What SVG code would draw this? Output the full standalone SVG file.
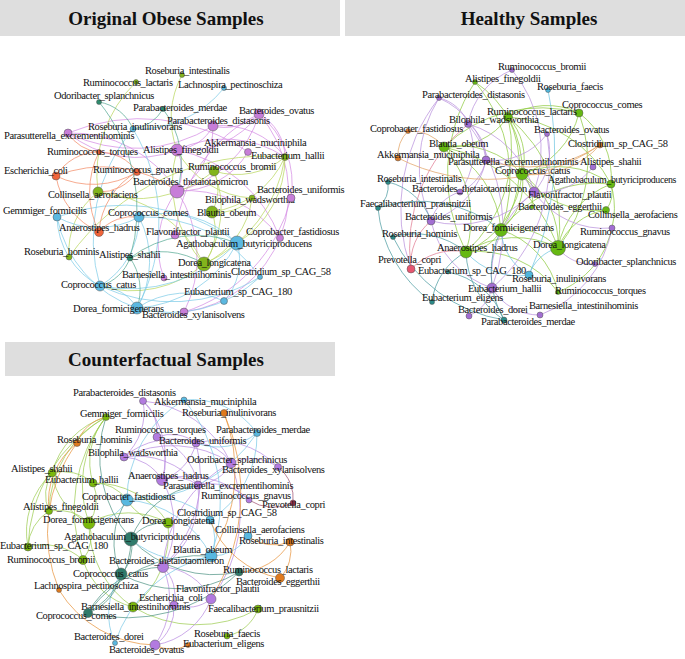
<svg xmlns="http://www.w3.org/2000/svg" width="685" height="659" viewBox="0 0 685 659">
<style>
.bg{fill:#dedede}
.tt{font-family:"Liberation Serif","Times New Roman",serif;font-weight:bold;font-size:19px;fill:#111;text-anchor:middle}
.l{font-family:"Liberation Serif","Times New Roman",serif;font-size:10.5px;letter-spacing:-0.4px;fill:#111}
circle{stroke:#555;stroke-width:0.5}
.e path{fill:none;stroke-width:0.9;opacity:0.8}
.p1{fill:#c77dd8}.g1{fill:#82b41c}.b1{fill:#5bb8e0}.o1{fill:#f0643a}.t1{fill:#2e8b6e}
.p2{fill:#a26ed2}.g2{fill:#66b812}.b2{fill:#4fb6dc}.o2{fill:#d97a2a}.t2{fill:#2a8a88}.r2{fill:#e65670}
.p3{fill:#b27ae0}.g3{fill:#7ab80c}.b3{fill:#58b8e0}.o3{fill:#e07a1e}.t3{fill:#2f7a6a}.r3{fill:#a03a5a}
.ep1{stroke:#d48ae3}.eg1{stroke:#b8d65c}.eb1{stroke:#7dcbe8}.eo1{stroke:#f28a64}.et1{stroke:#55a893}
.ep2{stroke:#b890dc}.eg2{stroke:#8cc83a}.eo2{stroke:#e0a060}.eb2{stroke:#6ec4e0}.et2{stroke:#4a9aa0}.er2{stroke:#e07890}
.ep3{stroke:#b88ae0}.eg3{stroke:#9ccc50}.eb3{stroke:#7ac8e6}.et3{stroke:#4f9484}.eo3{stroke:#e8923a}.er3{stroke:#a05070}
</style>
<rect x="0" y="0" width="685" height="659" fill="#ffffff"/>
<g id="titles">
<rect class="bg" x="0" y="0" width="340" height="36"/>
<rect class="bg" x="345" y="0" width="340" height="36"/>
<rect class="bg" x="5" y="342" width="330" height="34"/>
<text class="tt" x="166" y="25">Original Obese Samples</text>
<text class="tt" x="529" y="25">Healthy Samples</text>
<text class="tt" x="166" y="366">Counterfactual Samples</text>
</g>
<g id="connectors" class="e">
<g class="ep1">
<path d="M259 114 A50 50 0 0 1 213 126"/>
<path d="M259 114 A90 90 0 0 1 177 150"/>
<path d="M259 114 A50 50 0 0 1 285 157"/>
<path d="M259 114 A110 110 0 0 1 177 191"/>
<path d="M259 114 A120 120 0 0 1 184 312"/>
<path d="M213 126 A45 45 0 0 1 177 150"/>
<path d="M213 126 A150 150 0 0 1 68 133"/>
<path d="M213 126 A75 75 0 0 1 177 191"/>
<path d="M177 150 A110 110 0 0 1 68 133"/>
<path d="M177 150 A45 45 0 0 1 177 191"/>
<path d="M177 150 A110 110 0 0 1 285 157"/>
<path d="M248 152 A80 80 0 0 1 177 191"/>
<path d="M68 133 A125 125 0 0 1 177 191"/>
<path d="M177 191 A120 120 0 0 1 184 312"/>
<path d="M177 191 A115 115 0 0 1 280 238"/>
<path d="M291 198 A160 160 0 0 1 184 312"/>
<path d="M164 278 A90 90 0 0 1 177 191"/>
<path d="M175 235 A150 150 0 0 1 259 114"/>
<path d="M259 114 A90 90 0 0 1 291 198"/>
<path d="M213 126 A80 80 0 0 1 285 157"/>
<path d="M68 133 A190 190 0 0 1 248 152"/>
<path d="M177 150 A140 140 0 0 1 280 238"/>
</g>
<g class="eg1">
<path d="M182 75 A90 90 0 0 0 177 150"/>
<path d="M136 82 A130 130 0 0 0 98 192"/>
<path d="M285 157 A75 75 0 0 1 214 171"/>
<path d="M285 157 A95 95 0 0 1 212 212"/>
<path d="M285 157 A140 140 0 0 1 204 264"/>
<path d="M214 171 A45 45 0 0 1 212 212"/>
<path d="M214 171 A100 100 0 0 1 204 264"/>
<path d="M252 198 A45 45 0 0 1 212 212"/>
<path d="M252 198 A85 85 0 0 1 204 264"/>
<path d="M212 212 A55 55 0 0 1 204 264"/>
<path d="M98 192 A75 75 0 0 0 69 257"/>
<path d="M98 192 A130 130 0 0 1 204 264"/>
<path d="M69 257 A240 240 0 0 1 285 157"/>
<path d="M204 264 A120 120 0 0 1 177 150"/>
<path d="M252 198 A90 90 0 0 1 177 150"/>
<path d="M214 171 A120 120 0 0 1 98 192"/>
<path d="M285 157 A100 100 0 0 1 237 243"/>
<path d="M204 264 A110 110 0 0 1 100 286"/>
</g>
<g class="eb1">
<path d="M224 88 A110 110 0 0 1 133 129"/>
<path d="M57 217 A80 80 0 0 0 100 286"/>
<path d="M57 217 A120 120 0 0 0 137 308"/>
<path d="M57 217 A190 190 0 0 1 237 243"/>
<path d="M139 217 A95 95 0 0 1 137 308"/>
<path d="M139 217 A80 80 0 0 1 100 286"/>
<path d="M139 217 A100 100 0 0 1 237 243"/>
<path d="M100 286 A45 45 0 0 1 137 308"/>
<path d="M237 243 A120 120 0 0 1 137 308"/>
<path d="M237 243 A60 60 0 0 1 224 301"/>
<path d="M137 308 A90 90 0 0 1 224 301"/>
<path d="M260 277 A170 170 0 0 1 100 286"/>
<path d="M260 277 A130 130 0 0 1 137 308"/>
<path d="M133 129 A170 170 0 0 0 100 286"/>
<path d="M133 129 A180 180 0 0 1 137 308"/>
<path d="M139 217 A85 85 0 0 1 57 217"/>
<path d="M139 217 A140 140 0 0 1 260 277"/>
<path d="M237 243 A150 150 0 0 1 100 286"/>
</g>
<g class="eo1">
<path d="M56 176 A50 50 0 0 1 99 152"/>
<path d="M56 176 A85 85 0 0 0 137 172"/>
<path d="M99 152 A45 45 0 0 1 137 172"/>
<path d="M99 232 A75 75 0 0 1 137 172"/>
<path d="M99 232 A75 75 0 0 1 56 176"/>
<path d="M137 172 A45 45 0 0 1 98 192"/>
<path d="M99 232 A45 45 0 0 1 139 217"/>
<path d="M99 152 A40 40 0 0 1 68 133"/>
<path d="M56 176 A125 125 0 0 1 177 191"/>
<path d="M99 232 A90 90 0 0 1 99 152"/>
</g>
<g class="et1">
<path d="M99 102 A45 45 0 0 1 133 129"/>
<path d="M99 102 A170 170 0 0 1 130 258"/>
<path d="M130 258 A45 45 0 0 1 100 286"/>
<path d="M130 258 A80 80 0 0 1 204 264"/>
<path d="M163 109 A40 40 0 0 1 133 129"/>
<path d="M130 258 A110 110 0 0 1 237 243"/>
<path d="M163 109 A90 90 0 0 1 177 191"/>
<path d="M130 258 A55 55 0 0 1 137 308"/>
</g>
<g class="eg2">
<path d="M508 117 A60 60 0 0 1 522 174"/>
<path d="M508 117 A115 115 0 0 1 501 230"/>
<path d="M508 117 A140 140 0 0 1 466 252"/>
<path d="M508 117 A140 140 0 0 1 558 248"/>
<path d="M508 117 A72 72 0 0 1 579 113"/>
<path d="M508 117 A72 72 0 0 1 444 147"/>
<path d="M508 117 A125 125 0 0 1 611 184"/>
<path d="M579 113 A85 85 0 0 1 522 174"/>
<path d="M579 113 A140 140 0 0 1 558 248"/>
<path d="M579 113 A140 140 0 0 0 444 147"/>
<path d="M444 147 A85 85 0 0 1 522 174"/>
<path d="M444 147 A100 100 0 0 1 501 230"/>
<path d="M444 147 A110 110 0 0 1 466 252"/>
<path d="M444 147 A155 155 0 0 1 558 248"/>
<path d="M522 174 A60 60 0 0 1 501 230"/>
<path d="M522 174 A95 95 0 0 1 466 252"/>
<path d="M522 174 A85 85 0 0 1 558 248"/>
<path d="M522 174 A90 90 0 0 1 611 184"/>
<path d="M501 230 A42 42 0 0 1 466 252"/>
<path d="M501 230 A60 60 0 0 1 558 248"/>
<path d="M501 230 A120 120 0 0 1 611 184"/>
<path d="M466 252 A92 92 0 0 1 558 248"/>
<path d="M558 248 A85 85 0 0 1 611 184"/>
<path d="M611 184 A90 90 0 0 1 558 292"/>
<path d="M558 248 A62 62 0 0 1 606 210"/>
<path d="M466 252 A100 100 0 0 1 558 292"/>
<path d="M475 82 A105 105 0 0 1 522 174"/>
<path d="M475 82 A150 150 0 0 1 501 230"/>
<path d="M606 210 A92 92 0 0 1 522 174"/>
<path d="M611 184 A30 30 0 0 1 606 210"/>
<path d="M475 82 A170 170 0 0 0 466 252"/>
<path d="M579 113 A80 80 0 0 1 611 184"/>
<path d="M522 174 A40 40 0 0 1 532 207"/>
<path d="M501 230 A85 85 0 0 1 558 292"/>
</g>
<g class="ep2">
<path d="M439 98 A40 40 0 0 1 468 124"/>
<path d="M439 98 A80 80 0 0 1 486 160"/>
<path d="M439 98 A130 130 0 0 0 431 221"/>
<path d="M439 98 A180 180 0 0 0 411 269"/>
<path d="M468 124 A42 42 0 0 1 486 160"/>
<path d="M468 124 A70 70 0 0 1 460 192"/>
<path d="M468 124 A95 95 0 0 1 534 192"/>
<path d="M512 70 A72 72 0 0 0 468 124"/>
<path d="M486 160 A60 60 0 0 1 534 192"/>
<path d="M486 160 A45 45 0 0 1 460 192"/>
<path d="M547 134 A60 60 0 0 1 534 192"/>
<path d="M547 134 A165 165 0 0 1 492 288"/>
<path d="M593 167 A65 65 0 0 1 534 192"/>
<path d="M431 221 A42 42 0 0 1 460 192"/>
<path d="M431 221 A92 92 0 0 0 492 288"/>
<path d="M492 288 A40 40 0 0 1 469 316"/>
<path d="M492 288 A105 105 0 0 1 534 192"/>
<path d="M612 228 A86 86 0 0 1 534 192"/>
<path d="M612 228 A115 115 0 0 1 540 315"/>
<path d="M595 264 A42 42 0 0 1 558 248"/>
<path d="M486 160 A82 82 0 0 1 431 221"/>
<path d="M534 192 A107 107 0 0 1 431 221"/>
<path d="M468 124 A170 170 0 0 1 492 288"/>
<path d="M547 134 A66 66 0 0 1 486 160"/>
<path d="M512 70 A125 125 0 0 1 534 192"/>
<path d="M540 315 A55 55 0 0 1 492 288"/>
</g>
<g class="eo2">
<path d="M408 131 A35 35 0 0 0 398 158"/>
<path d="M600 145 A200 200 0 0 1 398 158"/>
<path d="M600 145 A90 90 0 0 1 522 174"/>
<path d="M600 145 A130 130 0 0 1 486 160"/>
<path d="M408 131 A42 42 0 0 1 444 147"/>
</g>
<g class="eb2">
<path d="M548 90 A300 300 0 0 1 529 275"/>
<path d="M529 275 A42 42 0 0 1 558 248"/>
<path d="M529 275 A70 70 0 0 1 466 252"/>
<path d="M529 275 A55 55 0 0 1 501 230"/>
</g>
<g class="et2">
<path d="M388 182 A30 30 0 0 1 378 208"/>
<path d="M378 208 A130 130 0 0 0 432 302"/>
<path d="M393 237 A150 150 0 0 0 504 320"/>
<path d="M393 237 A80 80 0 0 1 466 252"/>
<path d="M432 302 A65 65 0 0 1 466 252"/>
<path d="M504 320 A85 85 0 0 1 466 252"/>
<path d="M388 182 A60 60 0 0 1 431 221"/>
<path d="M448 272 A75 75 0 0 1 504 320"/>
<path d="M378 208 A130 130 0 0 1 501 230"/>
<path d="M504 320 A95 95 0 0 1 501 230"/>
</g>
<g class="er2">
<path d="M411 269 A55 55 0 0 1 431 221"/>
<path d="M411 269 A160 160 0 0 1 468 124"/>
<path d="M411 269 A60 60 0 0 1 466 252"/>
</g>
<g class="eg3">
<path d="M106 417 A80 80 0 0 0 52 473"/>
<path d="M106 417 A70 70 0 0 0 93 483"/>
<path d="M106 417 A110 110 0 0 0 89 523"/>
<path d="M106 417 A155 155 0 0 0 28 547"/>
<path d="M52 473 A45 45 0 0 1 93 483"/>
<path d="M52 473 A65 65 0 0 0 89 523"/>
<path d="M52 473 A40 40 0 0 0 49 511"/>
<path d="M93 483 A42 42 0 0 1 89 523"/>
<path d="M93 483 A88 88 0 0 1 168 523"/>
<path d="M49 511 A45 45 0 0 1 89 523"/>
<path d="M49 511 A45 45 0 0 0 28 547"/>
<path d="M89 523 A82 82 0 0 1 168 523"/>
<path d="M89 523 A40 40 0 0 1 83 560"/>
<path d="M89 523 A100 100 0 0 0 133 607"/>
<path d="M168 523 A95 95 0 0 1 133 607"/>
<path d="M28 547 A58 58 0 0 1 83 560"/>
<path d="M83 560 A70 70 0 0 0 133 607"/>
<path d="M258 609 A42 42 0 0 1 227 636"/>
<path d="M258 609 A125 125 0 0 1 133 607"/>
<path d="M106 417 A150 150 0 0 0 83 560"/>
<path d="M52 473 A80 80 0 0 0 28 547"/>
<path d="M106 417 A110 110 0 0 0 49 511"/>
<path d="M168 523 A48 48 0 0 1 127 500"/>
<path d="M93 483 A40 40 0 0 1 127 500"/>
</g>
<g class="ep3">
<path d="M143 401 A40 40 0 0 1 157 437"/>
<path d="M143 401 A60 60 0 0 1 124 457"/>
<path d="M157 437 A45 45 0 0 1 162 480"/>
<path d="M157 437 A40 40 0 0 1 196 443"/>
<path d="M196 443 A42 42 0 0 1 231 463"/>
<path d="M196 443 A52 52 0 0 1 162 480"/>
<path d="M124 457 A46 46 0 0 1 162 480"/>
<path d="M124 457 A80 80 0 0 1 198 485"/>
<path d="M124 457 A108 108 0 0 1 231 463"/>
<path d="M231 463 A48 48 0 0 1 278 467"/>
<path d="M231 463 A40 40 0 0 1 198 485"/>
<path d="M162 480 A38 38 0 0 1 198 485"/>
<path d="M162 480 A90 90 0 0 1 249 500"/>
<path d="M198 485 A55 55 0 0 1 249 500"/>
<path d="M163 567 A58 58 0 0 1 211 599"/>
<path d="M163 567 A40 40 0 0 1 174 605"/>
<path d="M163 567 A80 80 0 0 1 155 645"/>
<path d="M211 599 A38 38 0 0 1 174 605"/>
<path d="M211 599 A72 72 0 0 1 155 645"/>
<path d="M163 567 A125 125 0 0 1 231 463"/>
<path d="M196 443 A128 128 0 0 1 163 567"/>
<path d="M162 480 A88 88 0 0 1 163 567"/>
<path d="M143 401 A82 82 0 0 1 162 480"/>
<path d="M157 437 A64 64 0 0 1 198 485"/>
<path d="M124 457 A74 74 0 0 1 196 443"/>
<path d="M196 443 A86 86 0 0 1 278 467"/>
<path d="M174 605 A45 45 0 0 1 155 645"/>
<path d="M198 485 A90 90 0 0 1 163 567"/>
<path d="M231 463 A140 140 0 0 1 211 599"/>
<path d="M143 401 A108 108 0 0 1 231 463"/>
</g>
<g class="eb3">
<path d="M184 400 A115 115 0 0 0 127 500"/>
<path d="M184 400 A80 80 0 0 1 257 433"/>
<path d="M257 433 A62 62 0 0 1 196 443"/>
<path d="M257 433 A100 100 0 0 1 210 520"/>
<path d="M127 500 A85 85 0 0 1 210 520"/>
<path d="M127 500 A100 100 0 0 1 211 556"/>
<path d="M210 520 A40 40 0 0 1 211 556"/>
<path d="M248 536 A42 42 0 0 1 211 556"/>
<path d="M211 556 A82 82 0 0 1 131 539"/>
<path d="M115 643 A130 130 0 0 1 211 556"/>
<path d="M184 400 A160 160 0 0 1 211 556"/>
<path d="M257 433 A150 150 0 0 1 127 500"/>
<path d="M115 643 A70 70 0 0 1 121 574"/>
<path d="M127 500 A45 45 0 0 1 89 523"/>
</g>
<g class="et3">
<path d="M131 539 A38 38 0 0 1 121 574"/>
<path d="M131 539 A86 86 0 0 1 88 613"/>
<path d="M121 574 A52 52 0 0 1 88 613"/>
<path d="M239 572 A115 115 0 0 1 131 539"/>
<path d="M239 572 A118 118 0 0 1 121 574"/>
<path d="M88 613 A138 138 0 0 1 211 556"/>
<path d="M131 539 A125 125 0 0 1 106 417"/>
<path d="M121 574 A75 75 0 0 1 127 500"/>
<path d="M131 539 A40 40 0 0 1 168 523"/>
<path d="M88 613 A88 88 0 0 1 163 567"/>
<path d="M131 539 A86 86 0 0 1 198 485"/>
<path d="M88 613 A160 160 0 0 0 239 572"/>
</g>
<g class="eo3">
<path d="M224 413 A200 200 0 0 1 211 599"/>
<path d="M224 413 A160 160 0 0 1 211 556"/>
<path d="M77 443 A75 75 0 0 0 49 511"/>
<path d="M77 443 A150 150 0 0 0 59 590"/>
<path d="M290 542 A40 40 0 0 1 280 578"/>
<path d="M290 542 A43 43 0 0 1 248 536"/>
<path d="M280 578 A92 92 0 0 1 210 520"/>
<path d="M59 590 A115 115 0 0 0 155 645"/>
<path d="M188 645 A35 35 0 0 1 155 645"/>
<path d="M290 542 A60 60 0 0 1 239 572"/>
<path d="M106 417 A40 40 0 0 0 77 443"/>
</g>
<g class="er3">
<path d="M293 503 A40 40 0 0 0 278 467"/>
<path d="M293 503 A45 45 0 0 1 249 500"/>
</g>
</g>
<g id="o-rint"><circle class="g1" cx="182" cy="75" r="2.5"/><text class="l" x="145" y="74">Roseburia_intestinalis</text></g>
<g id="o-rlac"><circle class="g1" cx="136" cy="82" r="2.5"/><text class="l" x="83" y="86">Ruminococcus_lactaris</text></g>
<g id="o-lpec"><circle class="b1" cx="224" cy="88" r="2.5"/><text class="l" x="178" y="88">Lachnospira_pectinoschiza</text></g>
<g id="o-ospl"><circle class="t1" cx="99" cy="102" r="2.5"/><text class="l" x="54" y="99">Odoribacter_splanchnicus</text></g>
<g id="o-pmer"><circle class="t1" cx="163" cy="109" r="2.5"/><text class="l" x="133" y="111">Parabacteroides_merdae</text></g>
<g id="o-bova"><circle class="p1" cx="259" cy="114" r="5"/><text class="l" x="239" y="114">Bacteroides_ovatus</text></g>
<g id="o-pdis"><circle class="p1" cx="213" cy="126" r="5"/><text class="l" x="167" y="124">Parabacteroides_distasonis</text></g>
<g id="o-rinu"><circle class="b1" cx="133" cy="129" r="3"/><text class="l" x="88" y="130">Roseburia_inulinivorans</text></g>
<g id="o-pexc"><circle class="p1" cx="68" cy="133" r="4"/><text class="l" x="4" y="139">Parasutterella_excrementihominis</text></g>
<g id="o-amuc"><circle class="p1" cx="248" cy="152" r="3.5"/><text class="l" x="204" y="146">Akkermansia_muciniphila</text></g>
<g id="o-afin"><circle class="p1" cx="177" cy="150" r="6"/><text class="l" x="143" y="153">Alistipes_finegoldii</text></g>
<g id="o-rtor"><circle class="o1" cx="99" cy="152" r="2.5"/><text class="l" x="47" y="155">Ruminococcus_torques</text></g>
<g id="o-ehal"><circle class="g1" cx="285" cy="157" r="3.5"/><text class="l" x="251" y="159">Eubacterium_hallii</text></g>
<g id="o-ecol"><circle class="o1" cx="56" cy="176" r="4"/><text class="l" x="4" y="174">Escherichia_coli</text></g>
<g id="o-rgna"><circle class="o1" cx="137" cy="172" r="3.5"/><text class="l" x="93" y="173">Ruminococcus_gnavus</text></g>
<g id="o-rbro"><circle class="g1" cx="214" cy="171" r="5"/><text class="l" x="188" y="170">Ruminococcus_bromii</text></g>
<g id="o-bthe"><circle class="p1" cx="177" cy="191" r="7"/><text class="l" x="133" y="185">Bacteroides_thetaiotaomicron</text></g>
<g id="o-bwad"><circle class="g1" cx="252" cy="198" r="3"/><text class="l" x="205" y="203">Bilophila_wadsworthia</text></g>
<g id="o-buni"><circle class="p1" cx="291" cy="198" r="4"/><text class="l" x="257" y="193">Bacteroides_uniformis</text></g>
<g id="o-caer"><circle class="g1" cx="98" cy="192" r="5"/><text class="l" x="48" y="198">Collinsella_aerofaciens</text></g>
<g id="o-gfor"><circle class="b1" cx="57" cy="217" r="4"/><text class="l" x="3" y="214">Gemmiger_formicilis</text></g>
<g id="o-ccom"><circle class="b1" cx="139" cy="217" r="5"/><text class="l" x="108" y="216">Coprococcus_comes</text></g>
<g id="o-bobe"><circle class="g1" cx="212" cy="212" r="6"/><text class="l" x="197" y="216">Blautia_obeum</text></g>
<g id="o-ahad"><circle class="o1" cx="99" cy="232" r="4.5"/><text class="l" x="59" y="231">Anaerostipes_hadrus</text></g>
<g id="o-fpla"><circle class="p1" cx="175" cy="235" r="4"/><text class="l" x="146" y="235">Flavonifractor_plautii</text></g>
<g id="o-cfas"><circle class="p1" cx="280" cy="238" r="3.5"/><text class="l" x="246" y="235">Coprobacter_fastidiosus</text></g>
<g id="o-abut"><circle class="b1" cx="237" cy="243" r="7"/><text class="l" x="176" y="247">Agathobaculum_butyriciproducens</text></g>
<g id="o-rhom"><circle class="g1" cx="69" cy="257" r="3"/><text class="l" x="24" y="255">Roseburia_hominis</text></g>
<g id="o-asha"><circle class="t1" cx="130" cy="258" r="3"/><text class="l" x="99" y="258">Alistipes_shahii</text></g>
<g id="o-dlon"><circle class="g1" cx="204" cy="264" r="7"/><text class="l" x="178" y="266">Dorea_longicatena</text></g>
<g id="o-bint"><circle class="p1" cx="164" cy="278" r="3"/><text class="l" x="122" y="278">Barnesiella_intestinihominis</text></g>
<g id="o-c58"><circle class="b1" cx="260" cy="277" r="2.5"/><text class="l" x="231" y="275">Clostridium_sp_CAG_58</text></g>
<g id="o-ccat"><circle class="b1" cx="100" cy="286" r="5"/><text class="l" x="61" y="288">Coprococcus_catus</text></g>
<g id="o-c180"><circle class="b1" cx="224" cy="301" r="3.5"/><text class="l" x="184" y="295">Eubacterium_sp_CAG_180</text></g>
<g id="o-dfor"><circle class="b1" cx="137" cy="308" r="6"/><text class="l" x="73" y="312">Dorea_formicigenerans</text></g>
<g id="o-bxyl"><circle class="p1" cx="184" cy="312" r="4"/><text class="l" x="142" y="318">Bacteroides_xylanisolvens</text></g>
<g id="h-rbro"><circle class="p2" cx="512" cy="70" r="2.5"/><text class="l" x="498" y="70">Ruminococcus_bromii</text></g>
<g id="h-afin"><circle class="g2" cx="475" cy="82" r="2.5"/><text class="l" x="465" y="82">Alistipes_finegoldii</text></g>
<g id="h-rfae"><circle class="b2" cx="548" cy="90" r="2.5"/><text class="l" x="537" y="90">Roseburia_faecis</text></g>
<g id="h-pdis"><circle class="p2" cx="439" cy="98" r="2.5"/><text class="l" x="422" y="98">Parabacteroides_distasonis</text></g>
<g id="h-ccom"><circle class="g2" cx="579" cy="113" r="4"/><text class="l" x="562" y="108">Coprococcus_comes</text></g>
<g id="h-rlac"><circle class="g2" cx="508" cy="117" r="4.5"/><text class="l" x="487" y="115">Ruminococcus_lactaris</text></g>
<g id="h-bwad"><circle class="p2" cx="468" cy="124" r="3.5"/><text class="l" x="449" y="123">Bilophila_wadsworthia</text></g>
<g id="h-cfas"><circle class="o2" cx="408" cy="131" r="2.5"/><text class="l" x="370" y="132">Coprobacter_fastidiosus</text></g>
<g id="h-bova"><circle class="p2" cx="547" cy="134" r="2.5"/><text class="l" x="534" y="133">Bacteroides_ovatus</text></g>
<g id="h-c58"><circle class="o2" cx="600" cy="145" r="3"/><text class="l" x="568" y="147">Clostridium_sp_CAG_58</text></g>
<g id="h-bobe"><circle class="g2" cx="444" cy="147" r="5"/><text class="l" x="429" y="147">Blautia_obeum</text></g>
<g id="h-amuc"><circle class="o2" cx="398" cy="158" r="3"/><text class="l" x="377" y="158">Akkermansia_muciniphila</text></g>
<g id="h-pexc"><circle class="p2" cx="486" cy="160" r="4"/><text class="l" x="448" y="165">Parasutterella_excrementihominis</text></g>
<g id="h-asha"><circle class="p2" cx="593" cy="167" r="3"/><text class="l" x="580" y="165">Alistipes_shahii</text></g>
<g id="h-ccat"><circle class="g2" cx="522" cy="174" r="6"/><text class="l" x="495" y="174">Coprococcus_catus</text></g>
<g id="h-rint"><circle class="t2" cx="388" cy="182" r="2.5"/><text class="l" x="377" y="182">Roseburia_intestinalis</text></g>
<g id="h-abut"><circle class="g2" cx="611" cy="184" r="4"/><text class="l" x="548" y="183" textLength="128" lengthAdjust="spacingAndGlyphs">Agathobaculum_butyriciproducens</text></g>
<g id="h-bthe"><circle class="p2" cx="460" cy="192" r="3"/><text class="l" x="412" y="192">Bacteroides_thetaiotaomicron</text></g>
<g id="h-fpla"><circle class="p2" cx="534" cy="192" r="5"/><text class="l" x="528" y="198">Flavonifractor_plautii</text></g>
<g id="h-fpra"><circle class="t2" cx="378" cy="208" r="2.5"/><text class="l" x="360" y="207">Faecalibacterium_prausnitzii</text></g>
<g id="h-begg"><circle class="g2" cx="532" cy="207" r="2"/><text class="l" x="518" y="210">Bacteroides_eggerthii</text></g>
<g id="h-caer"><circle class="g2" cx="606" cy="210" r="3.5"/><text class="l" x="588" y="218">Collinsella_aerofaciens</text></g>
<g id="h-buni"><circle class="p2" cx="431" cy="221" r="4"/><text class="l" x="405" y="220">Bacteroides_uniformis</text></g>
<g id="h-dfor"><circle class="g2" cx="501" cy="230" r="6.5"/><text class="l" x="463" y="231">Dorea_formicigenerans</text></g>
<g id="h-rgna"><circle class="p2" cx="612" cy="228" r="3"/><text class="l" x="580" y="235">Ruminococcus_gnavus</text></g>
<g id="h-rhom"><circle class="t2" cx="393" cy="237" r="2.5"/><text class="l" x="382" y="237">Roseburia_hominis</text></g>
<g id="h-ahad"><circle class="g2" cx="466" cy="252" r="6"/><text class="l" x="437" y="251">Anaerostipes_hadrus</text></g>
<g id="h-dlon"><circle class="g2" cx="558" cy="248" r="7.5"/><text class="l" x="533" y="248">Dorea_longicatena</text></g>
<g id="h-ospl"><circle class="p2" cx="595" cy="264" r="2.5"/><text class="l" x="576" y="265">Odoribacter_splanchnicus</text></g>
<g id="h-pcop"><circle class="r2" cx="411" cy="269" r="4"/><text class="l" x="378" y="263">Prevotella_copri</text></g>
<g id="h-c180"><circle class="t2" cx="448" cy="272" r="2"/><text class="l" x="418" y="274">Eubacterium_sp_CAG_180</text></g>
<g id="h-rinu"><circle class="b2" cx="529" cy="275" r="4"/><text class="l" x="512" y="282">Roseburia_inulinivorans</text></g>
<g id="h-ehal"><circle class="p2" cx="492" cy="288" r="5"/><text class="l" x="468" y="292">Eubacterium_hallii</text></g>
<g id="h-rtor"><circle class="g2" cx="558" cy="292" r="2.5"/><text class="l" x="555" y="294">Ruminococcus_torques</text></g>
<g id="h-eeli"><circle class="t2" cx="432" cy="302" r="2.5"/><text class="l" x="422" y="301">Eubacterium_eligens</text></g>
<g id="h-bint"><circle class="p2" cx="540" cy="315" r="3"/><text class="l" x="529" y="309">Barnesiella_intestinihominis</text></g>
<g id="h-bdor"><circle class="p2" cx="469" cy="316" r="3"/><text class="l" x="458" y="313">Bacteroides_dorei</text></g>
<g id="h-pmer"><circle class="t2" cx="504" cy="320" r="3"/><text class="l" x="481" y="325">Parabacteroides_merdae</text></g>
<g id="c-pdis"><circle class="p3" cx="143" cy="401" r="3.5"/><text class="l" x="73" y="396">Parabacteroides_distasonis</text></g>
<g id="c-amuc"><circle class="b3" cx="184" cy="400" r="3"/><text class="l" x="154" y="405">Akkermansia_muciniphila</text></g>
<g id="c-gfor"><circle class="g3" cx="106" cy="417" r="3.5"/><text class="l" x="80" y="417">Gemmiger_formicilis</text></g>
<g id="c-rinu"><circle class="o3" cx="224" cy="413" r="3.5"/><text class="l" x="182" y="416">Roseburia_inulinivorans</text></g>
<g id="c-rhom"><circle class="o3" cx="77" cy="443" r="3.5"/><text class="l" x="57" y="443">Roseburia_hominis</text></g>
<g id="c-rtor"><circle class="p3" cx="157" cy="437" r="4"/><text class="l" x="115" y="433">Ruminococcus_torques</text></g>
<g id="c-pmer"><circle class="b3" cx="257" cy="433" r="3.5"/><text class="l" x="216" y="433">Parabacteroides_merdae</text></g>
<g id="c-buni"><circle class="p3" cx="196" cy="443" r="4"/><text class="l" x="159" y="444">Bacteroides_uniformis</text></g>
<g id="c-bwad"><circle class="p3" cx="124" cy="457" r="4"/><text class="l" x="88" y="456">Bilophila_wadsworthia</text></g>
<g id="c-ospl"><circle class="p3" cx="231" cy="463" r="5"/><text class="l" x="187" y="463">Odoribacter_splanchnicus</text></g>
<g id="c-bxyl"><circle class="p3" cx="278" cy="467" r="3.5"/><text class="l" x="222" y="473">Bacteroides_xylanisolvens</text></g>
<g id="c-asha"><circle class="g3" cx="52" cy="473" r="4"/><text class="l" x="11" y="472">Alistipes_shahii</text></g>
<g id="c-ahad"><circle class="p3" cx="162" cy="480" r="5.5"/><text class="l" x="128" y="479">Anaerostipes_hadrus</text></g>
<g id="c-ehal"><circle class="g3" cx="93" cy="483" r="4"/><text class="l" x="45" y="483">Eubacterium_hallii</text></g>
<g id="c-pexc"><circle class="p3" cx="198" cy="485" r="4"/><text class="l" x="163" y="489">Parasutterella_excrementihominis</text></g>
<g id="c-cfas"><circle class="b3" cx="127" cy="500" r="6"/><text class="l" x="82" y="500">Coprobacter_fastidiosus</text></g>
<g id="c-rgna"><circle class="p3" cx="249" cy="500" r="3"/><text class="l" x="201" y="499">Ruminococcus_gnavus</text></g>
<g id="c-pcop"><circle class="r3" cx="293" cy="503" r="3"/><text class="l" x="262" y="508">Prevotella_copri</text></g>
<g id="c-afin"><circle class="g3" cx="49" cy="511" r="3.5"/><text class="l" x="23" y="510">Alistipes_finegoldii</text></g>
<g id="c-c58"><circle class="b3" cx="210" cy="520" r="4"/><text class="l" x="177" y="516">Clostridium_sp_CAG_58</text></g>
<g id="c-dfor"><circle class="g3" cx="89" cy="523" r="6"/><text class="l" x="43" y="523">Dorea_formicigenerans</text></g>
<g id="c-dlon"><circle class="g3" cx="168" cy="523" r="5"/><text class="l" x="142" y="524">Dorea_longicatena</text></g>
<g id="c-caer"><circle class="b3" cx="248" cy="536" r="4"/><text class="l" x="215" y="533">Collinsella_aerofaciens</text></g>
<g id="c-c180"><circle class="g3" cx="28" cy="547" r="4"/><text class="l" x="0" y="549">Eubacterium_sp_CAG_180</text></g>
<g id="c-abut"><circle class="t3" cx="131" cy="539" r="7"/><text class="l" x="64" y="540">Agathobaculum_butyriciproducens</text></g>
<g id="c-rint"><circle class="o3" cx="290" cy="542" r="4"/><text class="l" x="239" y="544">Roseburia_intestinalis</text></g>
<g id="c-bobe"><circle class="b3" cx="211" cy="556" r="6"/><text class="l" x="173" y="553">Blautia_obeum</text></g>
<g id="c-rbro"><circle class="g3" cx="83" cy="560" r="4.5"/><text class="l" x="7" y="563">Ruminococcus_bromii</text></g>
<g id="c-bthe"><circle class="p3" cx="163" cy="567" r="5.5"/><text class="l" x="109" y="564">Bacteroides_thetaiotaomicron</text></g>
<g id="c-ccat"><circle class="t3" cx="121" cy="574" r="6"/><text class="l" x="73" y="577">Coprococcus_catus</text></g>
<g id="c-rlac"><circle class="t3" cx="239" cy="572" r="4"/><text class="l" x="223" y="573">Ruminococcus_lactaris</text></g>
<g id="c-begg"><circle class="o3" cx="280" cy="578" r="4.5"/><text class="l" x="236" y="585">Bacteroides_eggerthii</text></g>
<g id="c-lpec"><circle class="o3" cx="59" cy="590" r="2.5"/><text class="l" x="34" y="589">Lachnospira_pectinoschiza</text></g>
<g id="c-fpla"><circle class="p3" cx="211" cy="599" r="5"/><text class="l" x="176" y="592">Flavonifractor_plautii</text></g>
<g id="c-ecol"><circle class="p3" cx="174" cy="605" r="4"/><text class="l" x="139" y="601">Escherichia_coli</text></g>
<g id="c-bint"><circle class="g3" cx="133" cy="607" r="5"/><text class="l" x="81" y="610">Barnesiella_intestinihominis</text></g>
<g id="c-fpra"><circle class="g3" cx="258" cy="609" r="4"/><text class="l" x="208" y="612">Faecalibacterium_prausnitzii</text></g>
<g id="c-ccom"><circle class="t3" cx="88" cy="613" r="4.5"/><text class="l" x="36" y="619">Coprococcus_comes</text></g>
<g id="c-bdor"><circle class="b3" cx="115" cy="643" r="2.5"/><text class="l" x="74" y="640">Bacteroides_dorei</text></g>
<g id="c-rfae"><circle class="g3" cx="227" cy="636" r="3"/><text class="l" x="194" y="637">Roseburia_faecis</text></g>
<g id="c-bova"><circle class="p3" cx="155" cy="645" r="5"/><text class="l" x="109" y="653">Bacteroides_ovatus</text></g>
<g id="c-eeli"><circle class="o3" cx="188" cy="645" r="2.5"/><text class="l" x="183" y="647">Eubacterium_eligens</text></g>
</svg>
